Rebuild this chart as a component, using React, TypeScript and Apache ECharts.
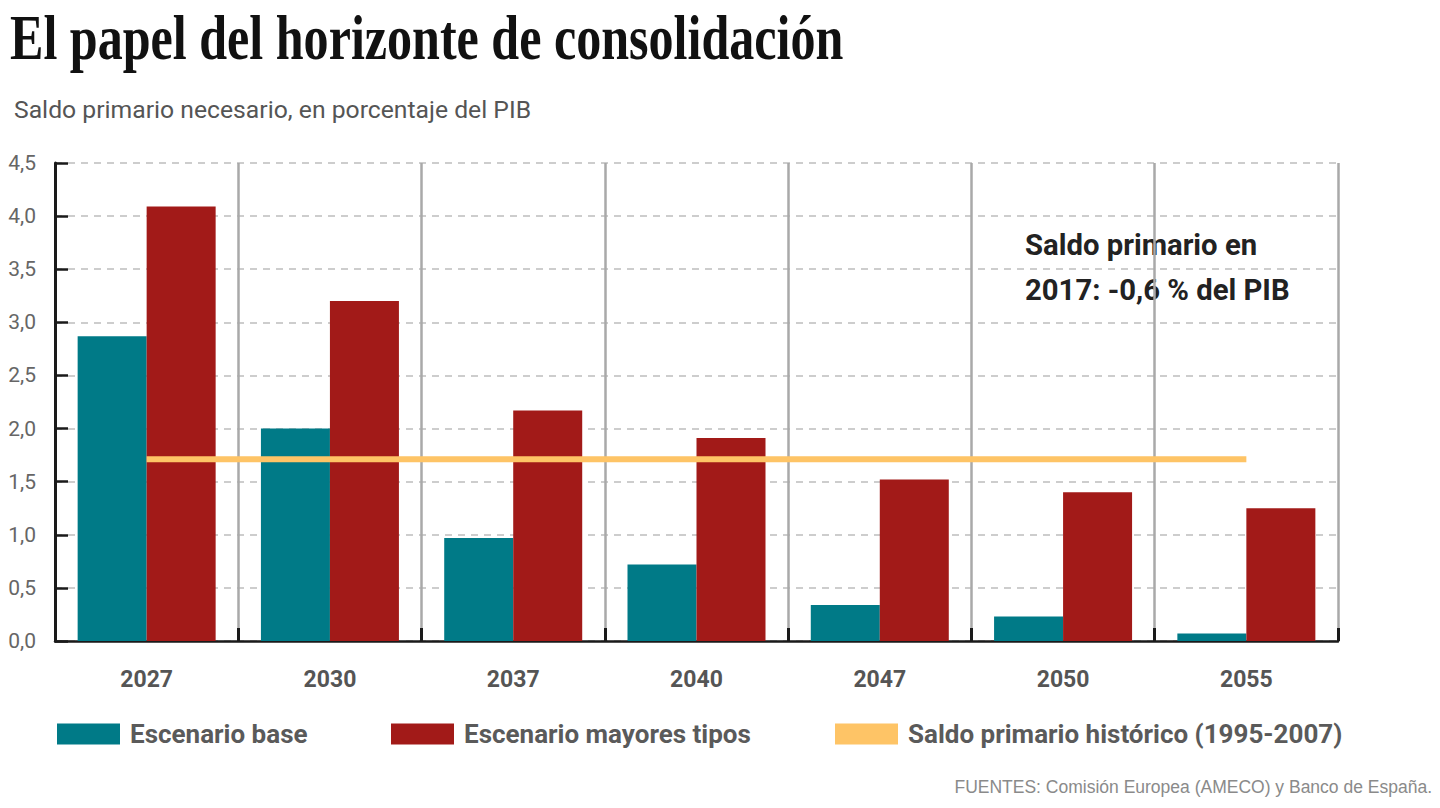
import React, { useEffect, useRef } from "react";
import * as echarts from "echarts";

const categories = ["2027", "2030", "2037", "2040", "2047", "2050", "2055"];
const baseScenario = [2.87, 2.0, 0.97, 0.72, 0.34, 0.23, 0.07];
const higherRates = [4.09, 3.2, 2.17, 1.91, 1.52, 1.4, 1.25];
const historical = [1.71, 1.71, 1.71, 1.71, 1.71, 1.71, 1.71];
const seriesNames = ["Escenario base", "Escenario mayores tipos", "Saldo primario histórico (1995-2007)"];

const TEAL = "#007a87";
const RED = "#a21a18";
const YELLOW = "#fec466";
const SANS = "Roboto, 'Liberation Sans', sans-serif";

export default function App() {
  const ref = useRef<HTMLDivElement>(null);
  useEffect(() => {
    if (!ref.current) return;
    const chart = echarts.init(ref.current, null, { renderer: "svg" });
    const legendBase = {
      orient: "horizontal",
      padding: 0,
      itemWidth: 63,
      itemHeight: 21,
      icon: "rect",
      textStyle: { fontFamily: SANS, fontWeight: "bold", fontSize: 26, color: "#5a5a5a", padding: [0, 0, 0, 5] },
      top: 721,
    };
    chart.setOption({
      animation: false,
      backgroundColor: "#ffffff",
      grid: { left: 55, right: 102, top: 163, bottom: 167 },
      xAxis: {
        type: "category",
        data: categories,
        axisLine: { lineStyle: { color: "#1a1a1a", width: 2.5 } },
        axisTick: { show: true, inside: true, length: 13, lineStyle: { color: "#1a1a1a", width: 3 } },
        axisLabel: { fontFamily: SANS, fontWeight: "bold", fontSize: 23, color: "#555555", margin: 27 },
        splitLine: { show: true, lineStyle: { color: "#a9a9a9", width: 2.5 } },
      },
      yAxis: {
        type: "value",
        min: 0,
        max: 4.5,
        interval: 0.5,
        axisLine: { show: true, lineStyle: { color: "#1a1a1a", width: 3 } },
        axisTick: { show: true, inside: true, length: 13, lineStyle: { color: "#1a1a1a", width: 2.5 } },
        axisLabel: {
          fontFamily: SANS,
          fontSize: 21,
          color: "#666666",
          margin: 19,
          formatter: (v: number) => v.toFixed(1).replace(".", ","),
        },
        splitLine: { show: true, lineStyle: { color: "#bdbdbd", width: 1.5, type: [7, 6] } },
      },
      legend: [
        { ...legendBase, left: 57, data: [{ name: seriesNames[0], itemStyle: { color: TEAL } }] },
        { ...legendBase, left: 391, data: [{ name: seriesNames[1], itemStyle: { color: RED } }] },
        { ...legendBase, left: 835, data: [{ name: seriesNames[2], itemStyle: { color: YELLOW } }] },
      ],
      series: [
        {
          name: seriesNames[0],
          type: "bar",
          data: baseScenario,
          barWidth: 69,
          barGap: "0%",
          itemStyle: { color: TEAL },
        },
        {
          name: seriesNames[1],
          type: "bar",
          data: higherRates,
          barWidth: 69,
          itemStyle: { color: RED },
        },
        {
          name: seriesNames[2],
          type: "line",
          data: historical,
          symbol: "none",
          z: 5,
          lineStyle: { color: YELLOW, width: 6 },
          itemStyle: { color: YELLOW },
        },
      ],
      graphic: [
        {
          type: "text",
          x: 10,
          y: 37,
          scaleX: 0.795,
          style: {
            x: 0,
            y: 0,
            text: "El papel del horizonte de consolidación",
            font: "bold 63px 'Liberation Serif', 'DejaVu Serif', serif",
            fill: "#111111",
            textAlign: "left",
            textVerticalAlign: "middle",
          },
        },
        {
          type: "text",
          x: 14,
          y: 110,
          scaleX: 1.03,
          style: {
            x: 0,
            y: 0,
            text: "Saldo primario necesario, en porcentaje del PIB",
            font: `24px ${SANS}`,
            fill: "#555555",
            textAlign: "left",
            textVerticalAlign: "middle",
          },
        },
        {
          type: "text",
          x: 1025,
          y: 245,
          scaleX: 1.01,
          style: {
            x: 0,
            y: 0,
            text: "Saldo primario en",
            font: `bold 29px ${SANS}`,
            fill: "#222222",
            textAlign: "left",
            textVerticalAlign: "middle",
          },
        },
        {
          type: "text",
          x: 1025,
          y: 290,
          scaleX: 1.01,
          style: {
            x: 0,
            y: 0,
            text: "2017: -0,6 % del PIB",
            font: `bold 29px ${SANS}`,
            fill: "#222222",
            textAlign: "left",
            textVerticalAlign: "middle",
          },
        },
        {
          type: "text",
          x: 1432,
          y: 787,
          style: {
            text: "FUENTES: Comisión Europea (AMECO) y Banco de España.",
            font: "17.5px 'Liberation Sans', Arial, sans-serif",
            fill: "#8a8a8a",
            textAlign: "right",
            textVerticalAlign: "middle",
          },
        },
      ],
    });
    return () => chart.dispose();
  }, []);
  return <div ref={ref} style={{ position: "fixed", left: 0, top: 0, width: 1440, height: 808 }} />;
}
